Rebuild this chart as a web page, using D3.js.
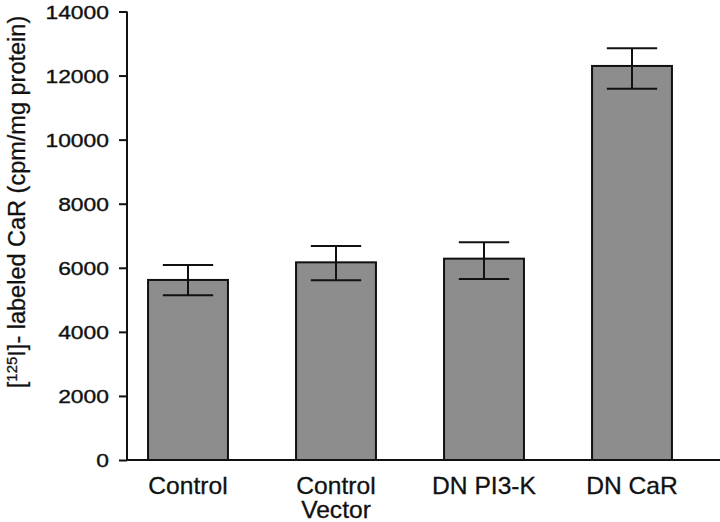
<!DOCTYPE html>
<html><head><meta charset="utf-8">
<script src="https://cdn.jsdelivr.net/npm/d3@7"></script>
<style>
html,body{margin:0;padding:0;background:#fff;}
svg{display:block;font-family:"Liberation Sans",Arial,Helvetica,sans-serif;}
</style></head>
<body>
<svg id="chart" width="720" height="522"></svg>
<script>
const categories = [["Control"], ["Control", "Vector"], ["DN PI3-K"], ["DN CaR"]];
const means = [5620, 6170, 6285, 12300];
const errUpper = [6090, 6680, 6795, 12850];
const errLower = [5140, 5610, 5650, 11590];
const yTicks = [0, 2000, 4000, 6000, 8000, 10000, 12000, 14000];

const svg = d3.select("#chart");
const ids = categories.map((c, i) => i);

const x = d3.scaleBand().domain(ids).range([114, 706]).paddingInner(0.46).paddingOuter(0.23);
const y = d3.scaleLinear().domain([0, 14000]).range([460, 11.5]);

// bars
svg.append("g").selectAll("rect").data(ids).join("rect")
  .attr("x", i => x(i))
  .attr("y", i => y(means[i]))
  .attr("width", x.bandwidth())
  .attr("height", i => y(0) - y(means[i]))
  .attr("fill", "#8d8d8d")
  .attr("stroke", "#111")
  .attr("stroke-width", 2);

// error bars
const capW = x.bandwidth() * 0.63;
const eg = svg.append("g").attr("stroke", "#111").attr("stroke-width", 2).attr("fill", "none");
ids.forEach(i => {
  const cx = x(i) + x.bandwidth() / 2;
  eg.append("line").attr("x1", cx).attr("x2", cx).attr("y1", y(errUpper[i])).attr("y2", y(errLower[i]));
  eg.append("line").attr("x1", cx - capW / 2).attr("x2", cx + capW / 2).attr("y1", y(errUpper[i])).attr("y2", y(errUpper[i]));
  eg.append("line").attr("x1", cx - capW / 2).attr("x2", cx + capW / 2).attr("y1", y(errLower[i])).attr("y2", y(errLower[i]));
});

// y axis
const yAxis = d3.axisLeft(y).tickValues(yTicks).tickFormat(d3.format("d")).tickSize(8).tickPadding(10);
const ya = svg.append("g").attr("transform", "translate(127,0)").call(yAxis);
ya.select(".domain").attr("stroke", "#111").attr("stroke-width", 2).attr("d", `M0,${y(14000)}V${y(0)}`);
ya.selectAll(".tick line").attr("stroke", "#111").attr("stroke-width", 2);
ya.selectAll(".tick text")
  .attr("font-size", 18)
  .attr("fill", "#111")
  .attr("stroke", "#111")
  .attr("stroke-width", 0.35)
  .attr("font-family", "Liberation Sans, Arial, sans-serif")
  .each(function() {
    const t = d3.select(this);
    const xx = +t.attr("x");
    t.attr("x", null).attr("transform", `translate(${xx},1) scale(1.27,1)`);
  });

// x axis line
svg.append("line").attr("x1", 127).attr("x2", 720).attr("y1", y(0)).attr("y2", y(0))
  .attr("stroke", "#111").attr("stroke-width", 2);

// x labels
const xl = svg.append("g").attr("font-size", 23).attr("fill", "#111")
  .attr("stroke", "#111").attr("stroke-width", 0.3).attr("text-anchor", "middle");
ids.forEach(i => {
  const cx = x(i) + x.bandwidth() / 2;
  const t = xl.append("text").attr("transform", `translate(${cx},494) scale(1.07,1)`);
  categories[i].forEach((line, k) => {
    t.append("tspan").attr("x", 0).attr("y", k * 24).text(line);
  });
});

// y label
const yl = svg.append("text")
  .attr("transform", "translate(25,202) rotate(-90)")
  .attr("text-anchor", "middle")
  .attr("font-size", 23.5)
  .attr("fill", "#111")
  .attr("stroke", "#111")
  .attr("stroke-width", 0.3);
yl.append("tspan").text("[");
yl.append("tspan").attr("font-size", 15).attr("dy", -8).text("125");
yl.append("tspan").attr("dy", 8).text("I]- labeled CaR (cpm/mg protein)");
</script>
</body></html>
